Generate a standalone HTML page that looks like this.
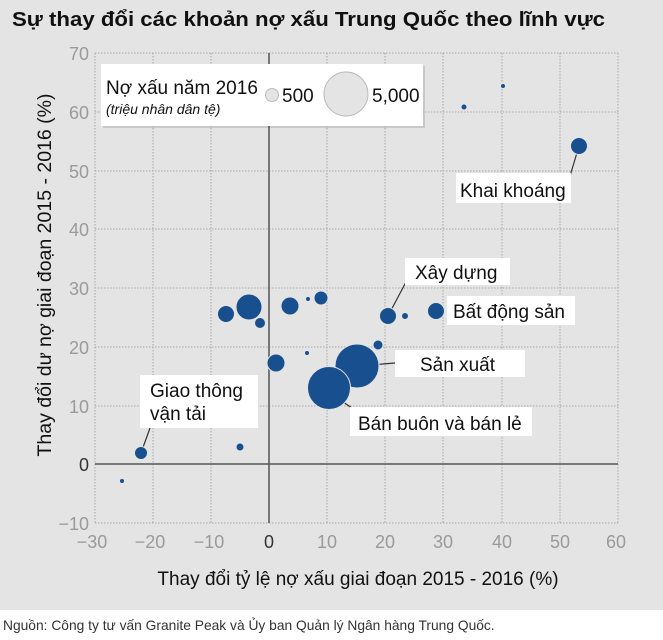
<!DOCTYPE html>
<html><head><meta charset="utf-8"><style>
html,body{margin:0;padding:0;background:#fff;}
svg{display:block;font-family:"Liberation Sans",sans-serif;}
</style></head><body>
<svg width="663" height="640" viewBox="0 0 663 640" xmlns="http://www.w3.org/2000/svg">
<rect x="0" y="0" width="663" height="610" fill="#e4e4e4"/>
<text x="12" y="26" font-size="20" font-weight="bold" fill="#111" textLength="593" lengthAdjust="spacingAndGlyphs">Sự thay đổi các khoản nợ xấu Trung Quốc theo lĩnh vực</text>
<g stroke="#a8a8a8" stroke-width="1" stroke-dasharray="1.5 1.5">
<line x1="95" y1="53" x2="95" y2="523"/><line x1="153" y1="53" x2="153" y2="523"/><line x1="211" y1="53" x2="211" y2="523"/>
<line x1="327" y1="53" x2="327" y2="523"/><line x1="385" y1="53" x2="385" y2="523"/><line x1="443" y1="53" x2="443" y2="523"/>
<line x1="502" y1="53" x2="502" y2="523"/><line x1="560" y1="53" x2="560" y2="523"/><line x1="618" y1="53" x2="618" y2="523"/>
<line x1="95" y1="53" x2="618" y2="53"/><line x1="95" y1="112" x2="618" y2="112"/><line x1="95" y1="171" x2="618" y2="171"/>
<line x1="95" y1="229" x2="618" y2="229"/><line x1="95" y1="288" x2="618" y2="288"/><line x1="95" y1="347" x2="618" y2="347"/>
<line x1="95" y1="406" x2="618" y2="406"/><line x1="95" y1="523" x2="618" y2="523"/>
</g>
<line x1="269" y1="53" x2="269" y2="523" stroke="#555" stroke-width="1.5"/>
<line x1="95" y1="464" x2="618" y2="464" stroke="#555" stroke-width="1.5"/>
<g font-size="18" fill="#9a9a9a" text-anchor="end">
<text x="89" y="60">70</text><text x="89" y="119">60</text><text x="89" y="178">50</text><text x="89" y="236">40</text>
<text x="89" y="295">30</text><text x="89" y="354">20</text><text x="89" y="413">10</text><text x="89" y="471" fill="#333">0</text><text x="89" y="530">−10</text>
</g>
<g font-size="18" fill="#9a9a9a" text-anchor="middle">
<text x="92" y="548">−30</text><text x="150" y="548">−20</text><text x="209" y="548">−10</text><text x="269" y="548" fill="#333">0</text>
<text x="327" y="548">10</text><text x="385" y="548">20</text><text x="443" y="548">30</text><text x="502" y="548">40</text><text x="560" y="548">50</text><text x="616" y="548">60</text>
</g>
<text x="358" y="585" font-size="19" fill="#111" text-anchor="middle">Thay đổi tỷ lệ nợ xấu giai đoạn 2015 - 2016 (%)</text>
<text transform="translate(51,275) rotate(-90)" font-size="19.5" fill="#111" text-anchor="middle">Thay đổi dư nợ giai đoạn 2015 - 2016 (%)</text>
<g stroke="#333" stroke-width="1.2">
<line x1="141" y1="453" x2="150" y2="428"/>
<line x1="388" y1="316" x2="406" y2="282"/>
<line x1="579" y1="146" x2="570" y2="176"/>
<line x1="370" y1="365" x2="395" y2="363"/>
<line x1="340" y1="400" x2="352" y2="408"/>
</g>
<g fill="#184f8f" stroke="#e4e4e4" stroke-width="1">
<circle cx="122" cy="481" r="2.5"/><circle cx="141" cy="453" r="6.5"/><circle cx="226" cy="314" r="8.5"/>
<circle cx="249" cy="307" r="13"/><circle cx="260" cy="323" r="5.5"/><circle cx="240" cy="447" r="4"/>
<circle cx="276" cy="363" r="9"/><circle cx="290" cy="306" r="9"/><circle cx="308" cy="299" r="2.5"/>
<circle cx="321" cy="298" r="7"/><circle cx="307" cy="353" r="2.5"/><circle cx="378" cy="345" r="5"/>
<circle cx="357" cy="366" r="22"/><circle cx="329" cy="388" r="21.5"/><circle cx="388" cy="316" r="8.5"/>
<circle cx="405" cy="316" r="3.5"/><circle cx="436" cy="311" r="8.5"/><circle cx="464" cy="107" r="3"/>
<circle cx="503" cy="86" r="2.5"/><circle cx="579" cy="146" r="8.5"/>
</g>
<g fill="#fff">
<rect x="140" y="375" width="118" height="53"/>
<rect x="405" y="258" width="105" height="27"/>
<rect x="447" y="296" width="128" height="29"/>
<rect x="395" y="350" width="130" height="27"/>
<rect x="350" y="407" width="182" height="29"/>
<rect x="456" y="173" width="115" height="30"/>
</g>
<g font-size="19" fill="#111">
<text x="150" y="397">Giao thông</text><text x="150" y="420">vận tải</text>
<text x="415" y="279">Xây dựng</text>
<text x="453" y="318">Bất động sản</text>
<text x="420" y="371">Sản xuất</text>
<text x="358" y="430">Bán buôn và bán lẻ</text>
<text x="460" y="197">Khai khoáng</text>
</g>
<rect x="103" y="66" width="322" height="62" fill="#000" opacity="0.12"/>
<rect x="101" y="64" width="322" height="62" fill="#fff"/>
<text x="106" y="94" font-size="19" fill="#111">Nợ xấu năm 2016</text>
<text x="106" y="114" font-size="14" font-style="italic" fill="#111">(triệu nhân dân tệ)</text>
<circle cx="272" cy="95" r="6.5" fill="#e4e4e4" stroke="#bbb"/>
<text x="282" y="102" font-size="19" fill="#111">500</text>
<circle cx="346" cy="94" r="22" fill="#e4e4e4" stroke="#bbb"/>
<text x="372" y="102" font-size="19" fill="#111">5,000</text>
<text x="3" y="630" font-size="13.8" fill="#333">Nguồn: Công ty tư vấn Granite Peak và Ủy ban Quản lý Ngân hàng Trung Quốc.</text>
</svg>
</body></html>
